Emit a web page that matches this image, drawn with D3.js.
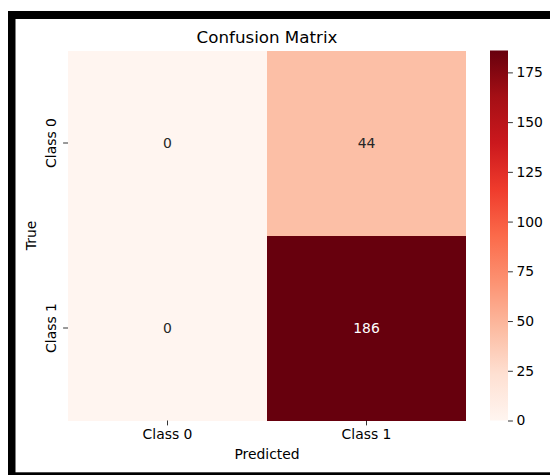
<!DOCTYPE html>
<html>
<head>
<meta charset="utf-8">
<script src="https://cdn.jsdelivr.net/npm/d3@7"></script>
<style>
html,body{margin:0;padding:0;background:#fff;}
svg{display:block;}
text{font-family:"DejaVu Sans",sans-serif;}
</style>
</head>
<body>
<svg id="chart" width="550" height="475"></svg>
<script>
const predictedClasses = ["Class 0", "Class 1"];
const trueClasses = ["Class 0", "Class 1"];
const matrixRow0 = [0, 44];
const matrixRow1 = [0, 186];
const colorbarTicks = [0, 25, 50, 75, 100, 125, 150, 175];
const redsStops = ["#fff5f0","#fee0d2","#fcbba1","#fc9272","#fb6a4a","#ef3b2c","#cb181d","#a50f15","#67000d"];

(function(){
const matrix = [matrixRow0, matrixRow1];
const vmax = d3.max(matrix.flat());
const vmin = 0;

const svg = d3.select("#chart");

// frame
svg.append("rect").attr("x",0).attr("y",0).attr("width",550).attr("height",475).attr("fill","#fff");
svg.append("rect").attr("x",8).attr("y",11).attr("width",600).attr("height",500).attr("fill","#000");
svg.append("rect").attr("x",15.5).attr("y",19).attr("width",600).attr("height",453.3).attr("fill","#fff");

const pLeft = 68, pRight = 466, pTop = 50.5, pBottom = 420.5;
const x = d3.scaleBand().domain(predictedClasses).range([pLeft, pRight]);
const y = d3.scaleBand().domain(trueClasses).range([pTop, pBottom]);

const cmap = d3.scaleLinear()
  .domain(redsStops.map((_, i) => vmin + (vmax - vmin) * i / (redsStops.length - 1)))
  .range(redsStops)
  .interpolate(d3.interpolateRgb)
  .clamp(true);

const cells = [];
trueClasses.forEach((t, i) => predictedClasses.forEach((p, j) => cells.push({t, p, v: matrix[i][j]})));

svg.append("g").selectAll("rect").data(cells).join("rect")
  .attr("x", d => x(d.p)).attr("y", d => y(d.t))
  .attr("width", x.bandwidth()).attr("height", y.bandwidth())
  .attr("fill", d => cmap(d.v))
  .attr("shape-rendering","crispEdges");

function lum(c){
  const r = d3.rgb(c);
  const f = v => { v/=255; return v <= 0.03928 ? v/12.92 : Math.pow((v+0.055)/1.055, 2.4); };
  return 0.2126*f(r.r)+0.7152*f(r.g)+0.0722*f(r.b);
}

svg.append("g").selectAll("text").data(cells).join("text")
  .attr("x", d => x(d.p) + x.bandwidth()/2)
  .attr("y", d => y(d.t) + y.bandwidth()/2)
  .attr("text-anchor","middle").attr("dominant-baseline","central")
  .attr("font-size","13.9px")
  .attr("fill", d => lum(cmap(d.v)) > 0.408 ? "#262626" : "#ffffff")
  .text(d => d.v);

// x axis
const xAxis = svg.append("g").attr("transform", `translate(0,${pBottom})`)
  .call(d3.axisBottom(x).tickSize(4.9).tickPadding(3.5));
xAxis.select(".domain").remove();
xAxis.selectAll("text").attr("font-size","13.9px").attr("fill","#000").attr("font-family","DejaVu Sans");
xAxis.selectAll("line").attr("stroke","#000").attr("stroke-width",0.8);

// y axis
const yAxis = svg.append("g").attr("transform", `translate(${pLeft},0)`)
  .call(d3.axisLeft(y).tickSize(4.9).tickPadding(3.5));
yAxis.select(".domain").remove();
yAxis.selectAll("line").attr("stroke","#000").attr("stroke-width",0.8);
yAxis.selectAll("text")
  .attr("font-size","13.9px").attr("fill","#000").attr("font-family","DejaVu Sans")
  .attr("x", null).attr("dy", null)
  .attr("text-anchor","middle")
  .attr("transform", "translate(-12.5,0) rotate(-90)")
  .attr("y", 0);

// axis labels
svg.append("text").attr("x", (pLeft+pRight)/2).attr("y", 459)
  .attr("text-anchor","middle").attr("font-size","13.9px").attr("fill","#000").text("Predicted");
svg.append("text").attr("transform", `translate(35.5,${(pTop+pBottom)/2}) rotate(-90)`)
  .attr("text-anchor","middle").attr("font-size","13.9px").attr("fill","#000").text("True");

// title
svg.append("text").attr("x", (pLeft+pRight)/2).attr("y", 43)
  .attr("text-anchor","middle").attr("font-size","16.7px").attr("fill","#000").text("Confusion Matrix");

// colorbar
const cbX = 490, cbW = 18;
const cy = d3.scaleLinear().domain([vmin, vmax]).range([pBottom, pTop]);
const defs = svg.append("defs");
const grad = defs.append("linearGradient").attr("id","cbgrad")
  .attr("x1","0").attr("y1","1").attr("x2","0").attr("y2","0");
grad.selectAll("stop").data(redsStops).join("stop")
  .attr("offset", (d,i) => i/(redsStops.length-1))
  .attr("stop-color", d => d);
svg.append("rect").attr("x", cbX).attr("y", pTop).attr("width", cbW).attr("height", pBottom-pTop)
  .attr("fill","url(#cbgrad)");
const cbAxis = svg.append("g").attr("transform", `translate(${cbX+cbW},0)`)
  .call(d3.axisRight(cy).tickValues(colorbarTicks).tickSize(4.9).tickPadding(3.5).tickFormat(d3.format("d")));
cbAxis.select(".domain").remove();
cbAxis.selectAll("line").attr("stroke","#000").attr("stroke-width",0.8);
cbAxis.selectAll("text").attr("font-size","13.9px").attr("fill","#000").attr("font-family","DejaVu Sans");
})();
</script>
</body>
</html>
